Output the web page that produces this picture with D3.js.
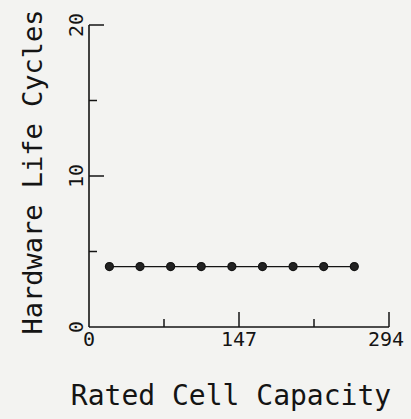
<!DOCTYPE html>
<html><head><meta charset="utf-8">
<script src="https://cdn.jsdelivr.net/npm/d3@7"></script>
<style>html,body{margin:0;padding:0;background:#f3f3f1;}svg{display:block;}</style>
</head><body>
<svg id="c" width="411" height="419"></svg>
<script>
const xValues = [20, 50, 80, 110, 140, 170, 200, 230, 260];
const yValues = [4, 4, 4, 4, 4, 4, 4, 4, 4];
const xTickLabels = [0, 147, 294];
const xMinorTicks = [73.5, 220.5];
const yTickLabels = [0, 10, 20];
const yMinorTicks = [5, 15];
const xTitle = "Rated Cell Capacity";
const yTitle = "Hardware Life Cycles";

const svg = d3.select("#c");
const ink = "#141414";
const font = "DejaVu Sans Mono, monospace";
const x = d3.scaleLinear().domain([0, 294]).range([89, 389]);
const y = d3.scaleLinear().domain([0, 20]).range([327, 25]);

// axes lines
svg.append("line").attr("x1", x(0)).attr("x2", x(294)).attr("y1", y(0)).attr("y2", y(0))
  .attr("stroke", ink).attr("stroke-width", 1.6);
svg.append("line").attr("x1", x(0)).attr("x2", x(0)).attr("y1", y(0)).attr("y2", y(20))
  .attr("stroke", ink).attr("stroke-width", 1.6);

// x ticks (inward / upward)
svg.selectAll(".xt").data(xTickLabels.filter(d => d !== 0)).enter().append("line")
  .attr("x1", d => x(d)).attr("x2", d => x(d)).attr("y1", y(0)).attr("y2", y(0) - 15)
  .attr("stroke", ink).attr("stroke-width", 1.5);
svg.selectAll(".xm").data(xMinorTicks).enter().append("line")
  .attr("x1", d => x(d)).attr("x2", d => x(d)).attr("y1", y(0)).attr("y2", y(0) - 8)
  .attr("stroke", ink).attr("stroke-width", 1.5);
// y ticks (inward / right)
svg.selectAll(".yt").data(yTickLabels.filter(d => d !== 0)).enter().append("line")
  .attr("x1", x(0)).attr("x2", x(0) + 15).attr("y1", d => y(d)).attr("y2", d => y(d))
  .attr("stroke", ink).attr("stroke-width", 1.5);
svg.selectAll(".ym").data(yMinorTicks).enter().append("line")
  .attr("x1", x(0)).attr("x2", x(0) + 8).attr("y1", d => y(d)).attr("y2", d => y(d))
  .attr("stroke", ink).attr("stroke-width", 1.5);

// x tick labels
svg.selectAll(".xl").data(xTickLabels).enter().append("text")
  .attr("x", d => d === 294 ? 404 : x(d))
  .attr("y", y(0) + 19)
  .attr("text-anchor", d => d === 294 ? "end" : "middle")
  .attr("font-family", font).attr("font-size", 20).attr("fill", ink)
  .text(d => d);
// y tick labels (rotated)
svg.selectAll(".yl").data(yTickLabels).enter().append("text")
  .attr("transform", d => `translate(${x(0) - 6},${y(d)}) rotate(-90)`)
  .attr("text-anchor", "middle")
  .attr("font-family", font).attr("font-size", 20).attr("fill", ink)
  .text(d => d);

// line + points
const pts = xValues.map((v, i) => [v, yValues[i]]);
svg.append("path").datum(pts)
  .attr("d", d3.line().x(d => x(d[0])).y(d => y(d[1])))
  .attr("fill", "none").attr("stroke", ink).attr("stroke-width", 1.4);
svg.selectAll(".pt").data(pts).enter().append("circle")
  .attr("cx", d => x(d[0])).attr("cy", d => y(d[1])).attr("r", 4)
  .attr("fill", "#222").attr("stroke", ink).attr("stroke-width", 1.2);

// titles
svg.append("text").attr("x", 231).attr("y", 405).attr("text-anchor", "middle")
  .attr("font-family", font).attr("font-size", 28).attr("fill", ink).text(xTitle);
svg.append("text").attr("transform", "translate(42,172) rotate(-90)").attr("text-anchor", "middle")
  .attr("font-family", font).attr("font-size", 27).attr("fill", ink).text(yTitle);
</script>
</body></html>
